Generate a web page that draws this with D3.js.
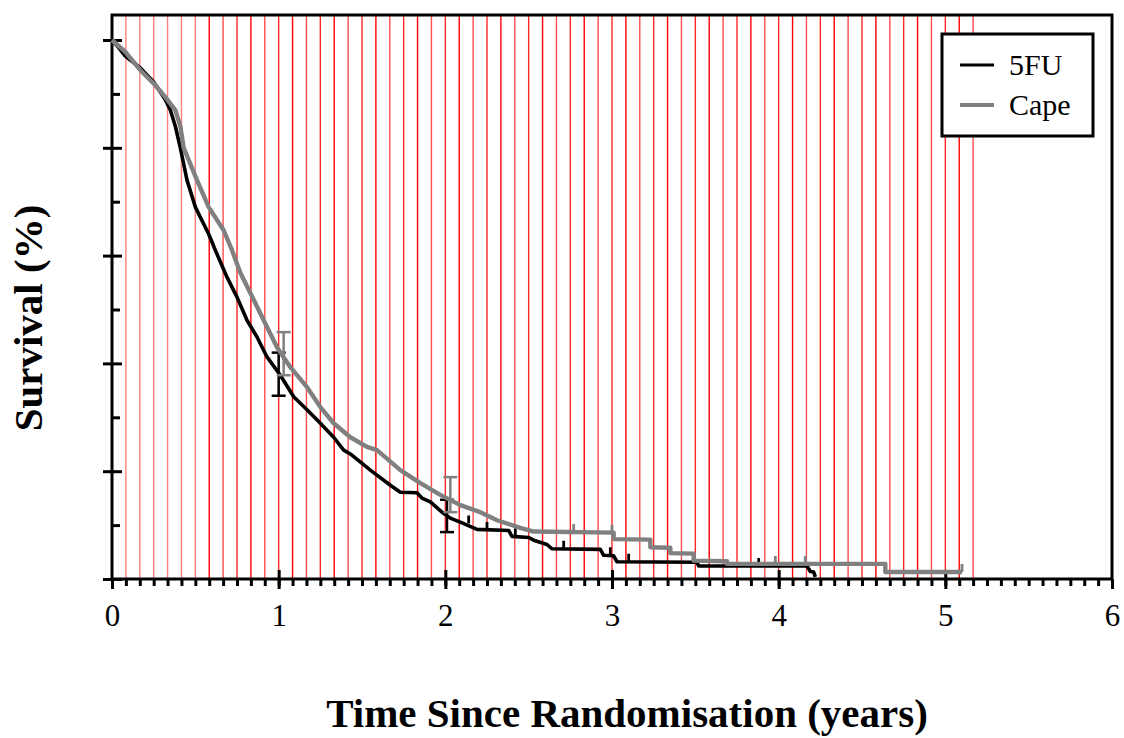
<!DOCTYPE html>
<html>
<head>
<meta charset="utf-8">
<script src="https://cdn.jsdelivr.net/npm/d3@7"></script>
<style>
  body { margin: 0; background: #fff; }
  svg { display: block; }
  text { font-family: "Liberation Serif", "Times New Roman", serif; fill: #000; }
</style>
</head>
<body>
<svg id="chart" width="1124" height="738"></svg>
<script>
// survival curves: [years, survival %]
const fu5 = [
  [0,100],[0.04,98.6],[0.08,97],[0.17,94.8],[0.25,92.2],[0.32,88.9],[0.35,87],[0.38,84],
  [0.41,80],[0.45,74],[0.50,69],[0.58,64],[0.62,61],[0.69,56],[0.75,52.3],[0.81,48],
  [0.87,44.9],[0.93,41.2],[1.01,37.8],[1.09,33.8],[1.17,31.4],[1.25,28.9],[1.33,26.3],
  [1.39,23.9],[1.43,23.2],[1.55,20.2],[1.67,17.4],[1.73,16.1],[1.83,16.0],[1.86,15.0],
  [1.91,14.3],[1.98,12.4],[2.03,11.3],[2.10,10.4],[2.19,9.2],[2.38,9.0],[2.40,7.9],
  [2.50,7.7],[2.53,7.2],[2.61,6.4],[2.64,5.6],[2.93,5.5],[2.95,4.4],[3.01,4.3],[3.03,3.2],
  [3.51,3.1],[3.52,2.4],[4.17,2.4],[4.19,1.4],[4.21,1.3],[4.22,0.4]
];
const cape = [
  [0,100],[0.08,97.8],[0.17,94.4],[0.26,91.6],[0.32,89.4],[0.38,87],[0.41,84],[0.43,80],
  [0.51,74],[0.58,69],[0.67,64.7],[0.72,61],[0.77,56.8],[0.85,51.8],[0.91,48],[0.99,43],
  [1.07,39.3],[1.17,35.6],[1.25,31.9],[1.33,28.9],[1.43,26.3],[1.53,24.5],[1.59,23.9],
  [1.73,20.2],[1.85,17.8],[1.97,15.6],[2.09,13.7],[2.21,12.4],[2.31,10.9],[2.45,9.5],
  [2.53,8.8],[3.01,8.6],[3.01,7.4],[3.23,7.3],[3.23,5.9],[3.35,5.8],[3.35,4.8],[3.49,4.7],
  [3.49,3.4],[3.69,3.3],[3.69,2.8],[4.64,2.8],[4.64,1.3],[5.10,1.3]
];
// censor ticks [years, survival %]
const censFu5 = [[2.14,10.3],[2.25,9.1],[2.42,7.9],[2.71,5.6],[2.99,4.4],[3.10,3.2],[3.88,2.4]];
const censCape = [[2.77,8.7],[3.00,8.6],[3.98,2.8],[4.16,2.8],[5.10,1.3]];
// confidence bars [years, low %, high %]
const errFu5 = [[1.00,34,42],[2.01,8.7,14.7]];
const errCape = [[1.03,37.8,45.8],[2.03,12.4,18.9]];

const xYears = [0,1,2,3,4,5,6];
const xMonths = d3.range(0, 73).map(m => m / 12);
const redMonths = d3.range(1, 63).map(m => m / 12);
const yMajor = [0,20,40,60,80,100];
const yMinor = [10,30,50,70,90];
const seriesNames = ["5FU", "Cape"];
const seriesColors = ["#000000", "#808080"];

const FONT = "Liberation Serif, Times New Roman, serif";
const svg = d3.select("#chart");
const L = 112, R = 1112, T = 15, B = 579;

const x = d3.scaleLinear().domain([0, 6]).range([L, R]);
const y = d3.scaleLinear().domain([0, 100]).range([B, 40]);

// red monthly guide lines
svg.append("g")
  .selectAll("line")
  .data(redMonths)
  .join("line")
  .attr("x1", d => x(d)).attr("x2", d => x(d))
  .attr("y1", T).attr("y2", B)
  .attr("stroke", "#ff0000")
  .attr("stroke-width", 1.4)
  .attr("stroke-opacity", (d, i) => i < 6 ? 0.5 : [1, 0.7, 0.85][i % 3]);

// axes
function styleAxis(g) {
  g.select(".domain").remove();
  g.selectAll(".tick line").attr("stroke", "#000").attr("stroke-width", 3);
}
svg.append("g").attr("transform", `translate(0,${B})`)
  .call(d3.axisBottom(x).tickValues(xMonths).tickSize(7).tickFormat(""))
  .call(styleAxis);
svg.append("g").attr("transform", `translate(0,${B})`)
  .attr("font-family", FONT)
  .call(d3.axisBottom(x).tickValues(xYears).tickSize(10).tickPadding(15).tickFormat(d3.format("d")))
  .call(styleAxis)
  .selectAll("text").attr("font-size", 31).attr("font-family", FONT);
svg.append("g").attr("transform", `translate(0,${B})`)
  .call(d3.axisTop(x).tickValues(xYears.slice(1, 6)).tickSize(9).tickFormat(""))
  .call(styleAxis);

svg.append("g").attr("transform", `translate(${L},0)`)
  .call(d3.axisLeft(y).tickValues(yMajor).tickSize(9).tickFormat(""))
  .call(styleAxis);
svg.append("g").attr("transform", `translate(${L},0)`)
  .call(d3.axisRight(y).tickValues(yMajor).tickSize(10).tickFormat(""))
  .call(styleAxis);
svg.append("g").attr("transform", `translate(${L},0)`)
  .call(d3.axisRight(y).tickValues(yMinor).tickSize(8).tickFormat(""))
  .call(styleAxis);

// frame
svg.append("rect")
  .attr("x", L).attr("y", T)
  .attr("width", R - L).attr("height", B - T)
  .attr("fill", "none").attr("stroke", "#000").attr("stroke-width", 3);

// curves
const line = d3.line().x(d => x(d[0])).y(d => y(d[1]));
[[fu5, censFu5, errFu5, 3.6], [cape, censCape, errCape, 4.4]].forEach(([data, cens, err, w], i) => {
  const c = seriesColors[i];
  const g = svg.append("g");
  g.append("path")
    .attr("d", line(data))
    .attr("fill", "none")
    .attr("stroke", c)
    .attr("stroke-width", w)
    .attr("stroke-linejoin", "round");
  g.selectAll(".cens")
    .data(cens)
    .join("line")
    .attr("x1", d => x(d[0])).attr("x2", d => x(d[0]))
    .attr("y1", d => y(d[1])).attr("y2", d => y(d[1]) - 8)
    .attr("stroke", c).attr("stroke-width", 2.8);
  const eb = g.selectAll(".err").data(err).join("g");
  eb.append("line")
    .attr("x1", d => x(d[0])).attr("x2", d => x(d[0]))
    .attr("y1", d => y(d[1])).attr("y2", d => y(d[2]))
    .attr("stroke", c).attr("stroke-width", 2.5);
  [1, 2].forEach(k => {
    eb.append("line")
      .attr("x1", d => x(d[0]) - 7).attr("x2", d => x(d[0]) + 7)
      .attr("y1", d => y(d[k])).attr("y2", d => y(d[k]))
      .attr("stroke", c).attr("stroke-width", 2.5);
  });
});

// legend
const leg = svg.append("g");
leg.append("rect")
  .attr("x", 942).attr("y", 34).attr("width", 151).attr("height", 102)
  .attr("fill", "#fff").attr("stroke", "#000").attr("stroke-width", 3);
seriesNames.forEach((name, i) => {
  const cy = 65 + i * 40;
  leg.append("line")
    .attr("x1", 960).attr("x2", 994).attr("y1", cy).attr("y2", cy)
    .attr("stroke", seriesColors[i]).attr("stroke-width", i ? 4 : 3);
  leg.append("text")
    .attr("x", 1009).attr("y", cy + 10)
    .attr("font-family", FONT)
    .attr("font-size", 30)
    .text(name);
});

// axis titles
svg.append("text")
  .attr("x", 627).attr("y", 727)
  .attr("text-anchor", "middle")
  .attr("font-family", FONT)
  .attr("font-size", 41).attr("font-weight", "bold")
  .text("Time Since Randomisation (years)");
svg.append("text")
  .attr("transform", "translate(42,318) rotate(-90)")
  .attr("text-anchor", "middle")
  .attr("font-family", FONT)
  .attr("font-size", 41).attr("font-weight", "bold")
  .text("Survival (%)");
</script>
</body>
</html>
